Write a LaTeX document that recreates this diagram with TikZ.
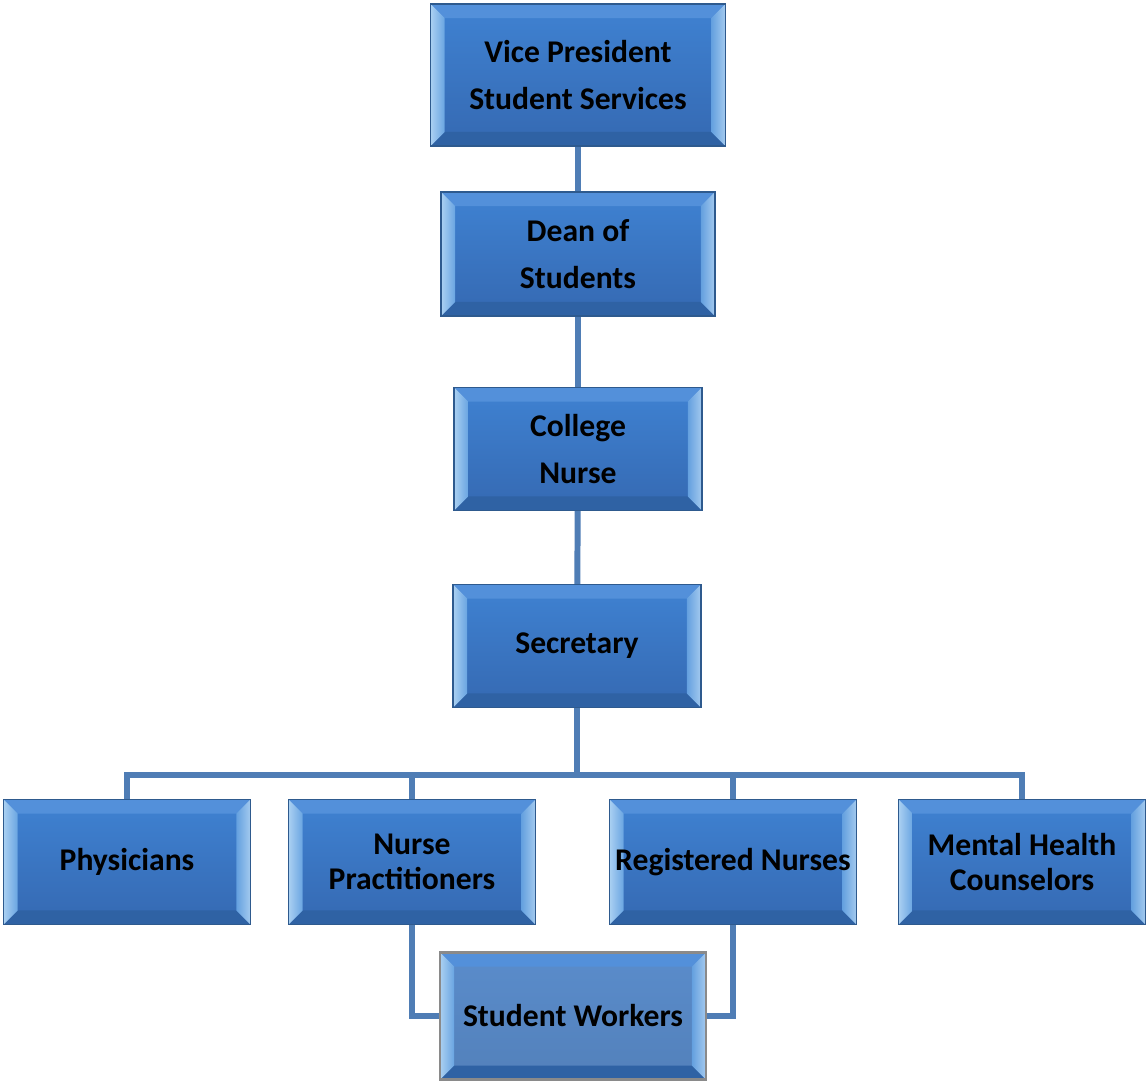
\documentclass[tikz,border=0pt]{standalone}
\usepackage{fontspec}
\setmainfont{Carlito}
\usetikzlibrary{backgrounds,calc}
\definecolor{linec}{HTML}{4F7DB5}
\definecolor{boxtop}{HTML}{3F82D2}
\definecolor{boxbot}{HTML}{3569B2}
\definecolor{bevT}{HTML}{5390DA}
\definecolor{bevL}{HTML}{86BCEC}
\definecolor{bevR}{HTML}{7DB4E8}
\definecolor{bevB}{HTML}{2F62A4}
\definecolor{boxline}{HTML}{2E5A8E}
\definecolor{swfill}{HTML}{5A8CCB}
\definecolor{swline}{HTML}{8A8A8A}
\tikzset{
  bevelbox/.style={draw=boxline, line width=0.8pt, top color=boxtop, bottom color=boxbot,
    font=\bfseries\fontsize{18}{27}\selectfont, align=center, inner sep=0pt,
    path picture={
      \path (path picture bounding box.south west) coordinate (bbsw)
            (path picture bounding box.north east) coordinate (bbne);
      \fill[bevT] (bbsw|-bbne) -- (bbne) -- ($(bbne)+(-0.28cm,-0.28cm)$) -- ($(bbsw|-bbne)+(0.28cm,-0.28cm)$) -- cycle;
      \fill[bevB] (bbsw) -- (bbne|-bbsw) -- ($(bbne|-bbsw)+(-0.28cm,0.28cm)$) -- ($(bbsw)+(0.28cm,0.28cm)$) -- cycle;
      \shade[left color=bevL!70!white, right color=bevL!60!boxtop] (bbsw) -- (bbsw|-bbne) -- ($(bbsw|-bbne)+(0.28cm,-0.28cm)$) -- ($(bbsw)+(0.28cm,0.28cm)$) -- cycle;
      \shade[left color=bevR!60!boxtop, right color=bevR!70!white] (bbne) -- (bbne|-bbsw) -- ($(bbne|-bbsw)+(-0.28cm,0.28cm)$) -- ($(bbne)+(-0.28cm,-0.28cm)$) -- cycle;
    }},
  lowbox/.style={bevelbox, font=\bfseries\fontsize{18}{19.8}\selectfont},
  swbox/.style={lowbox, draw=swline, line width=1.2pt, top color=swfill, bottom color=swfill!92!black},
  conn/.style={draw=linec, line width=3.4pt}
}
\begin{document}
\begin{tikzpicture}[x=0.02cm, y=0.02cm]
\useasboundingbox (0,0) rectangle (1147,-1082);
\node[bevelbox, minimum width=5.9cm, minimum height=2.84cm] (vp) at (578,-75) {Vice President\\Student Services};
\node[bevelbox, minimum width=5.48cm, minimum height=2.48cm] (dean) at (578,-254) {Dean of\\Students};
\node[bevelbox, minimum width=4.96cm, minimum height=2.46cm] (cn) at (578,-449) {College\\Nurse};
\node[bevelbox, minimum width=4.96cm, minimum height=2.46cm] (sec) at (577,-646) {Secretary};
\node[lowbox, minimum width=4.94cm, minimum height=2.5cm] (phys) at (127,-862) {Physicians};
\node[lowbox, minimum width=4.94cm, minimum height=2.5cm] (np) at (412,-862) {Nurse\\Practitioners};
\node[lowbox, minimum width=4.94cm, minimum height=2.5cm] (rn) at (733,-862) {Registered Nurses};
\node[lowbox, minimum width=4.94cm, minimum height=2.5cm] (mh) at (1022,-862) {Mental Health\\Counselors};
\node[swbox, minimum width=5.32cm, minimum height=2.54cm] (sw) at (573,-1016) {Student Workers};
\coordinate (bus) at (577,-775);
\begin{scope}[on background layer]
\draw[conn] (vp) -- (dean);
\draw[conn] (dean) -- (cn);
\draw[conn] (cn) -- (sec);
\draw[conn] (sec) -- (bus);
\draw[conn] (phys.north) |- (bus) -| (mh.north);
\draw[conn] (np.north) -- (np.north |- bus);
\draw[conn] (rn.north) -- (rn.north |- bus);
\draw[conn] (np.south) |- (sw.west);
\draw[conn] (rn.south) |- (sw.east);
\end{scope}
\end{tikzpicture}
\end{document}
